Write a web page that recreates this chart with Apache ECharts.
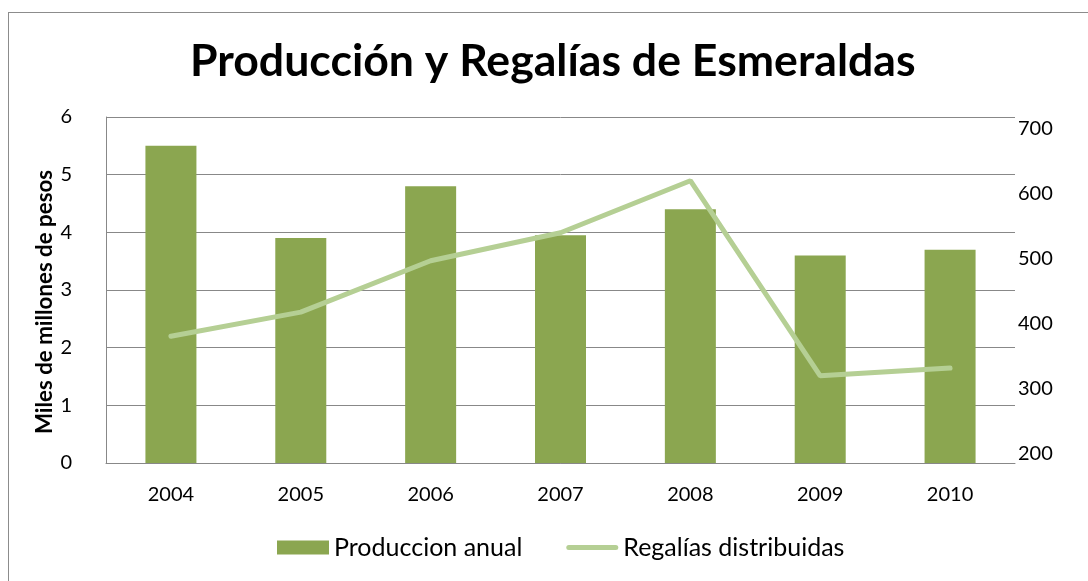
<!DOCTYPE html>
<html>
<head>
<meta charset="utf-8">
<script src="https://cdn.jsdelivr.net/npm/echarts@6/dist/echarts.min.js"></script>
<style>
html,body{margin:0;padding:0;background:#fff;}
#frame{position:absolute;left:8px;top:12px;width:1200px;height:700px;border-top:1px solid #8c8c8c;border-left:1px solid #8c8c8c;}
#main{position:absolute;left:0;top:0;width:1088px;height:581px;}
</style>
</head>
<body>
<div id="frame"></div>
<div id="main"></div>
<script>
var title = 'Producción y Regalías de Esmeraldas';
var yAxisTitle = 'Miles de millones de pesos';
var years = ['2004','2005','2006','2007','2008','2009','2010'];
var produccionAnual = [5.5, 3.9, 4.8, 3.95, 4.4, 3.6, 3.7];
var regaliasDistribuidas = [380, 417, 496, 539, 619, 319, 331];
var leftTicks = [0,1,2,3,4,5,6];
var rightTicks = [200,300,400,500,600,700];

var font = 'Lato, "Open Sans", sans-serif';
var chart = echarts.init(document.getElementById('main'), null, {renderer:'canvas'});
chart.setOption({
  animation: false,
  backgroundColor: 'transparent',
  title: {
    text: title, left: 190, top: 34, padding: [5, 0, 5, 0],
    textStyle: {fontFamily: font, fontWeight: 'bold', fontSize: 44.6, color: '#000'}
  },
  graphic: [{
    type: 'text', x: 45, y: 302, rotation: Math.PI / 2,
    style: {text: yAxisTitle, fontFamily: font, fontWeight: 'bold', fontSize: 22.3, fill: '#000', align: 'center', verticalAlign: 'middle'}
  }],
  legend: {
    bottom: 16, left: 272, itemGap: 44, itemWidth: 52, itemHeight: 14,
    textStyle: {fontFamily: font, fontSize: 25, color: '#000'},
    data: [
      {name:'Produccion anual', icon:'rect'},
      {name:'Regalías distribuidas', icon:'path://M2.5,0 h47 a2.5,2.5 0 0 1 0,5 h-47 a2.5,2.5 0 0 1 0,-5z', itemStyle:{color:'#b5cf94'}}
    ]
  },
  grid: {left: 106, right: 73, top: 117, bottom: 118, containLabel: false},
  xAxis: {
    type: 'category', data: years,
    axisLine: {lineStyle: {color: '#888', width: 1}},
    axisTick: {show: false},
    axisLabel: {fontFamily: font, fontSize: 20, color: '#000', margin: 22}
  },
  yAxis: [{
    type: 'value', min: 0, max: 6, interval: 1,
    axisLine: {show: true, lineStyle: {color: '#888', width: 1}},
    axisTick: {show: false},
    splitLine: {lineStyle: {color: '#888', width: 1}},
    axisLabel: {fontFamily: font, fontSize: 20, color: '#000', margin: 34}
  }, {
    type: 'value', min: 185, max: 717,
    position: 'right',
    axisLine: {show: false},
    axisTick: {show: false},
    splitLine: {show: false},
    axisLabel: {fontFamily: font, fontSize: 20, color: '#000', margin: 3, customValues: rightTicks}
  }],
  series: [{
    name: 'Produccion anual', type: 'bar', data: produccionAnual, barWidth: 51,
    itemStyle: {color: '#8ba650'}
  }, {
    name: 'Regalías distribuidas', type: 'line', yAxisIndex: 1, data: regaliasDistribuidas,
    symbol: 'none', lineStyle: {color: '#b5cf94', width: 5, cap: 'round'},
    itemStyle: {color: '#b5cf94'}
  }]
});
</script>
</body>
</html>
